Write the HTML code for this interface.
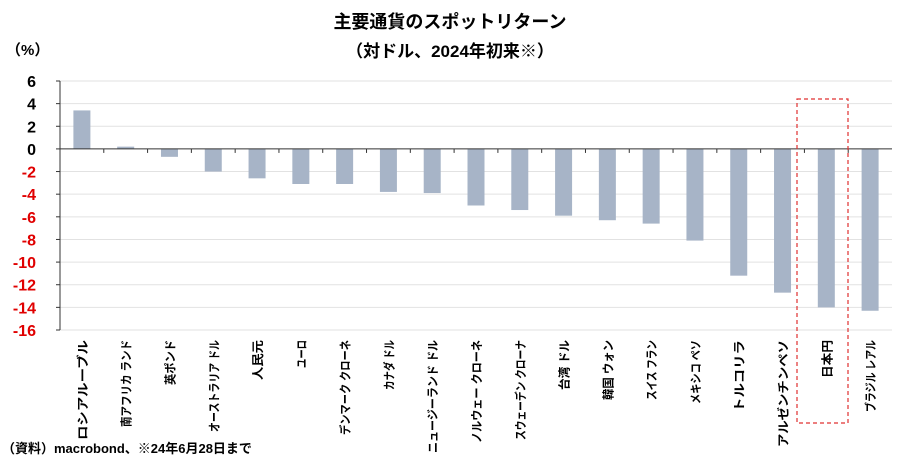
<!DOCTYPE html>
<html><head><meta charset="utf-8"><style>
body{margin:0;background:#fff;}
svg{display:block;font-family:"Liberation Sans","Noto Sans CJK JP",sans-serif;}
</style></head><body>
<svg id="chart" width="900" height="474" viewBox="0 0 900 474">
<text x="450" y="28" text-anchor="middle" font-size="18" font-weight="bold">主要通貨のスポットリターン</text>
<text x="450" y="57" text-anchor="middle" font-size="17" font-weight="bold">（対ドル、2024年初来※）</text>
<text x="6" y="55" font-size="15" font-weight="bold">（%）</text>
<text x="2" y="453" font-size="13" font-weight="bold">（資料）macrobond、※24年6月28日まで</text>
<g id="grid"></g><g id="bars"></g><g id="axes"></g><g id="labels"></g>
<rect x="797" y="99" width="51" height="324" fill="none" stroke="#e03030" stroke-width="1.2" stroke-dasharray="4,3"/>
</svg>
<script>
const categories=["ロシアルーブル","南アフリカ ランド","英ポンド","オーストラリア ドル","人民元","ユーロ","デンマーク クローネ","カナダ ドル","ニュージーランド ドル","ノルウェー クローネ","スウェーデン クローナ","台湾 ドル","韓国 ウォン","スイス フラン","メキシコ ペソ","トルコリラ","アルゼンチンペソ","日本円","ブラジル レアル"];
const values=[3.4,0.2,-0.7,-2.0,-2.6,-3.1,-3.1,-3.8,-3.9,-5.0,-5.4,-5.9,-6.3,-6.6,-8.1,-11.2,-12.7,-14.0,-14.3];
const yTicks=[6,4,2,0,-2,-4,-6,-8,-10,-12,-14,-16];
const labelLen=[100,87,45,92,40,28,95,50,113,103,100,50,60,60,64,72,107,38,72];
const NS="http://www.w3.org/2000/svg";
const X0=60,X1=892,YT=81,YB=330,VMAX=6,VMIN=-16;
const y=v=>YT+(VMAX-v)/(VMAX-VMIN)*(YB-YT);
const bw=(X1-X0)/categories.length;
const xc=i=>X0+bw*(i+0.5);
function mk(t,a,p){const e=document.createElementNS(NS,t);for(const k in a)e.setAttribute(k,a[k]);p.appendChild(e);return e;}
const grid=document.getElementById('grid'),bars=document.getElementById('bars'),axes=document.getElementById('axes'),labels=document.getElementById('labels');
yTicks.forEach(v=>{
  if(v!==0){const g=mk('line',{x1:X0,x2:X1,y1:y(v),y2:y(v),stroke:'#e2e2e2','stroke-width':1},grid);
  
  }
  const t=mk('text',{x:36,y:y(v)+6,'text-anchor':'end','font-size':16,'font-weight':'bold',fill:v<0?'#e00000':'#000'},axes);
  t.textContent=v;
  
  
  const tk=mk('line',{x1:X0-4,x2:X0,y1:y(v),y2:y(v),stroke:'#333'},axes);
  
  
});
values.forEach((v,i)=>{
  const r=mk('rect',{x:xc(i)-8.5,width:17,y:Math.min(y(v),y(0)),height:Math.abs(y(v)-y(0)),fill:'#a7b4c7'},bars);
  
  
  const tx=mk('text',{transform:`translate(${xc(i)+5},340) rotate(-90)`,'text-anchor':'end','font-size':12,'font-weight':'bold',textLength:labelLen[i],lengthAdjust:'spacingAndGlyphs'},labels);
  tx.textContent=categories[i];
  
  
  if(i>0){const tk=mk('line',{x1:X0+bw*i,x2:X0+bw*i,y1:y(0),y2:y(0)+4,stroke:'#333'},axes);
  
  }
});
const ya=mk('line',{x1:X0,x2:X0,y1:YT,y2:YB,stroke:'#333'},axes);


const xa=mk('line',{x1:X0,x2:X1,y1:y(0),y2:y(0),stroke:'#333'},axes);


</script>
</body></html>
